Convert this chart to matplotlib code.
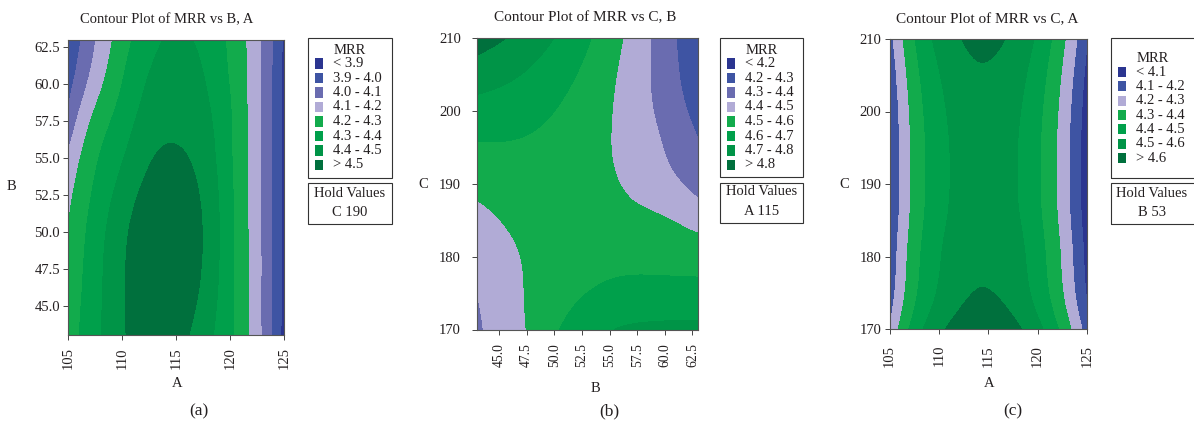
import numpy as np
import matplotlib
matplotlib.use("Agg")
import matplotlib.pyplot as plt
import matplotlib.tri as mtri
from matplotlib.patches import Rectangle

plt.rcParams['font.family'] = ['Liberation Serif', 'DejaVu Serif']

# ------------------------------------------------------------------ data
A_vals = [105, 107.5, 110, 112.5, 115, 117.5, 120, 122.5, 125]
B_vals = [43, 45.5, 48, 50.5, 53, 55.5, 58, 60.5, 63]
C_vals = [170, 175, 180, 185, 190, 195, 200, 205, 210]

# MRR over (B rows, A columns), hold C = 190
MRR_BA = [
    [4.250, 4.370, 4.485, 4.546, 4.533, 4.444, 4.316, 4.133, 3.860],
    [4.235, 4.363, 4.487, 4.558, 4.553, 4.474, 4.319, 4.131, 3.870],
    [4.215, 4.356, 4.483, 4.561, 4.564, 4.492, 4.323, 4.131, 3.870],
    [4.195, 4.340, 4.467, 4.551, 4.560, 4.494, 4.323, 4.130, 3.870],
    [4.160, 4.310, 4.429, 4.521, 4.537, 4.479, 4.318, 4.129, 3.870],
    [4.095, 4.272, 4.382, 4.481, 4.505, 4.454, 4.310, 4.129, 3.870],
    [4.010, 4.210, 4.334, 4.440, 4.472, 4.428, 4.305, 4.125, 3.870],
    [3.950, 4.136, 4.290, 4.402, 4.440, 4.402, 4.290, 4.127, 3.870],
    [3.900, 4.093, 4.250, 4.366, 4.410, 4.378, 4.278, 4.127, 3.880],
]

# MRR over (C rows, B columns), hold A = 115
MRR_CB = [
    [4.380, 4.455, 4.515, 4.600, 4.660, 4.700, 4.715, 4.722, 4.725],
    [4.400, 4.462, 4.514, 4.560, 4.600, 4.625, 4.635, 4.635, 4.630],
    [4.430, 4.477, 4.514, 4.540, 4.558, 4.570, 4.570, 4.565, 4.560],
    [4.472, 4.504, 4.526, 4.537, 4.538, 4.530, 4.520, 4.500, 4.460],
    [4.524, 4.541, 4.548, 4.544, 4.530, 4.505, 4.469, 4.423, 4.366],
    [4.588, 4.590, 4.582, 4.563, 4.534, 4.493, 4.443, 4.381, 4.310],
    [4.662, 4.649, 4.626, 4.592, 4.548, 4.493, 4.427, 4.351, 4.264],
    [4.748, 4.720, 4.682, 4.633, 4.574, 4.503, 4.423, 4.331, 4.230],
    [4.844, 4.801, 4.748, 4.684, 4.610, 4.525, 4.429, 4.323, 4.206],
]

# MRR over (C rows, A columns), hold B = 53
MRR_CA = [
    [4.205, 4.439, 4.574, 4.650, 4.668, 4.627, 4.527, 4.368, 4.151],
    [4.140, 4.374, 4.509, 4.585, 4.603, 4.562, 4.462, 4.303, 4.086],
    [4.120, 4.354, 4.489, 4.565, 4.583, 4.542, 4.442, 4.283, 4.066],
    [4.100, 4.334, 4.469, 4.545, 4.563, 4.522, 4.422, 4.263, 4.046],
    [4.090, 4.324, 4.459, 4.535, 4.553, 4.512, 4.412, 4.253, 4.036],
    [4.091, 4.325, 4.460, 4.536, 4.554, 4.513, 4.413, 4.254, 4.037],
    [4.102, 4.336, 4.471, 4.547, 4.565, 4.524, 4.424, 4.265, 4.048],
    [4.124, 4.358, 4.493, 4.569, 4.587, 4.546, 4.446, 4.287, 4.070],
    [4.158, 4.392, 4.527, 4.603, 4.621, 4.580, 4.480, 4.321, 4.104],
]

cuts_a = [3.9, 4.0, 4.1, 4.2, 4.3, 4.4, 4.5]
labels_a = ['< 3.9', '3.9 - 4.0', '4.0 - 4.1', '4.1 - 4.2', '4.2 - 4.3',
            '4.3 - 4.4', '4.4 - 4.5', '> 4.5']
cuts_b = [4.2, 4.3, 4.4, 4.5, 4.6, 4.7, 4.8]
labels_b = ['< 4.2', '4.2 - 4.3', '4.3 - 4.4', '4.4 - 4.5', '4.5 - 4.6',
            '4.6 - 4.7', '4.7 - 4.8', '> 4.8']
cuts_c = [4.1, 4.2, 4.3, 4.4, 4.5, 4.6]
labels_c = ['< 4.1', '4.1 - 4.2', '4.2 - 4.3', '4.3 - 4.4', '4.4 - 4.5',
            '4.5 - 4.6', '> 4.6']

NAVY, BLUE, PERI, LAV = '#2b3590', '#3e54a3', '#6a6cb0', '#b1abd6'
G1, G2, G3, G4 = '#12ab4c', '#00a04b', '#009447', '#00703d'
colors_8 = [NAVY, BLUE, PERI, LAV, G1, G2, G3, G4]
colors_7 = [NAVY, BLUE, LAV, G1, G2, G3, G4]

# ------------------------------------------------------------------ layout
W, H = 1194, 437
fig = plt.figure(figsize=(W / 100, H / 100), dpi=100)
TXT = '#231f20'


def fx(px):
    return px / W


def fy(py):
    return 1 - py / H


def fill(ax, xs, ys, z, cuts, colors):
    xs = np.asarray(xs, float)
    ys = np.asarray(ys, float)
    z = np.asarray(z, float)
    nx, ny = len(xs), len(ys)
    X, Y = np.meshgrid(xs, ys)
    xr, yr = xs[-1] - xs[0], ys[-1] - ys[0]
    tris = []
    for j in range(ny - 1):
        for i in range(nx - 1):
            p = j * nx + i
            tris += [[p, p + 1, p + nx + 1], [p, p + nx + 1, p + nx]]
    tri = mtri.Triangulation(((X - xs[0]) / xr).ravel(),
                             ((Y - ys[0]) / yr).ravel(), np.array(tris))
    fine, zf = mtri.UniformTriRefiner(tri).refine_field(z.ravel(), subdiv=4)
    tplot = mtri.Triangulation(fine.x * xr + xs[0], fine.y * yr + ys[0],
                               fine.triangles)
    lv = [0.0] + list(cuts) + [10.0]
    cs = ax.tricontourf(tplot, zf, levels=lv, colors=colors)
    cs.set_edgecolor('face')
    cs.set_linewidth(0.4)
    ax.set_xlim(xs[0], xs[-1])
    ax.set_ylim(ys[0], ys[-1])


def panel(box, xs, ys, z, cuts, colors, title, title_pos, tsize,
          xlabel, xlab_pos, ylabel, ylab_pos, xticks, xfmt, yticks, yfmt,
          ypad, xpad, xtsize):
    L, T, R, B = box
    ax = fig.add_axes([fx(L), fy(B), (R - L) / W, (B - T) / H])
    fill(ax, xs, ys, z, cuts, colors)
    ax.set_xticks(xticks)
    ax.set_xticklabels([xfmt.format(v) for v in xticks])
    ax.set_yticks(yticks)
    ax.set_yticklabels([yfmt.format(v) for v in yticks])
    for s in ax.spines.values():
        s.set_color('#555555')
        s.set_linewidth(0.8)
    ax.tick_params(direction='out', length=3.5, width=0.7, color='#444444',
                   labelcolor=TXT, labelsize=10.5)
    ax.tick_params(axis='y', pad=ypad)
    ax.tick_params(axis='x', labelrotation=90, pad=xpad, labelsize=xtsize)

    def axc(p):
        return ((p[0] - L) / (R - L), (B - p[1]) / (B - T))

    tx, ty = axc(title_pos)
    ax.set_title(title, x=tx, y=ty, pad=0, va='center', fontsize=tsize,
                 color=TXT)
    ax.set_xlabel(xlabel, fontsize=10.5, color=TXT, va='center', ha='center')
    ax.xaxis.set_label_coords(*axc(xlab_pos))
    ax.set_ylabel(ylabel, fontsize=10.5, color=TXT, rotation=0,
                  va='center', ha='center')
    ax.yaxis.set_label_coords(*axc(ylab_pos))
    return ax


def key(frame, title_pos, sw_x, txt_x, y0, dy, labels, colors,
        hold_frame, hold_x, hold_y, hold_lines):
    L, T, R, B = frame
    fig.add_artist(Rectangle((fx(L), fy(B)), (R - L) / W, (B - T) / H,
                             transform=fig.transFigure, fill=False,
                             ec='#333333', lw=0.8))
    fig.text(fx(title_pos[0]), fy(title_pos[1]), 'MRR', ha='center',
             va='center', fontsize=10.5, color=TXT)
    for i, (lab, col) in enumerate(zip(labels, colors)):
        yc = y0 + dy * i
        fig.add_artist(Rectangle((fx(sw_x), fy(yc + 5)), 8 / W, 10 / H,
                                 transform=fig.transFigure, fc=col, ec='none'))
        fig.text(fx(txt_x), fy(yc), lab, ha='left', va='center',
                 fontsize=10.5, color=TXT)
    L, T, R, B = hold_frame
    fig.add_artist(Rectangle((fx(L), fy(B)), (R - L) / W, (B - T) / H,
                             transform=fig.transFigure, fill=False,
                             ec='#333333', lw=0.8))
    for yy, line in zip(hold_y, hold_lines):
        fig.text(fx(hold_x), fy(yy), line, ha='center', va='center',
                 fontsize=10.5, color=TXT)


# (a)
panel((68, 39.6, 284, 335.3), A_vals, B_vals, MRR_BA, cuts_a, colors_8,
      'Contour Plot of MRR vs B, A', (166.7, 20), 10.5,
      'A', (176.7, 383.3), 'B', (11.7, 186.7),
      [105, 110, 115, 120, 125], '{:d}',
      [45, 47.5, 50, 52.5, 55, 57.5, 60, 62.5], '{:.1f}', 2.2, 5, 10.5)
key((308, 38, 392, 178), (350, 50), 315, 333, 63.5, 14.5, labels_a, colors_8,
    (308, 183, 392, 224), 350, (193.3, 212.7), ['Hold Values', 'C 190'])

# (b)
panel((477, 38.2, 698, 329.5), B_vals, C_vals, MRR_CB, cuts_b, colors_8,
      'Contour Plot of MRR vs C, B', (585.5, 18), 11,
      'B', (595, 388.3), 'C', (423.3, 184),
      [45, 47.5, 50, 52.5, 55, 57.5, 60, 62.5], '{:.1f}',
      [170, 180, 190, 200, 210], '{:d}', 8, 6.5, 9.8)
key((720, 38, 803, 177), (761.7, 50), 727, 745, 63.5, 14.5, labels_b,
    colors_8, (720, 183, 803, 223), 762, (191.7, 211.7),
    ['Hold Values', 'A 115'])

# (c)
panel((889.5, 39, 1087, 329), A_vals, C_vals, MRR_CA, cuts_c, colors_7,
      'Contour Plot of MRR vs C, A', (986.7, 20), 11,
      'A', (989.3, 383.3), 'C', (844, 184),
      [105, 110, 115, 120, 125], '{:d}',
      [170, 180, 190, 200, 210], '{:d}', 2.2, 8, 10.5)
key((1111, 38, 1197, 178), (1152.7, 59), 1118, 1136, 72, 14.35, labels_c,
    colors_7, (1111, 183, 1197, 224), 1152, (193.3, 212.7),
    ['Hold Values', 'B 53'])

for lab, xp in [('(a)', 199), ('(b)', 609), ('(c)', 1013)]:
    fig.text(fx(xp), fy(411), lab, ha='center', va='center', fontsize=12.5,
             color=TXT)

fig.savefig('out.png', dpi=100)
